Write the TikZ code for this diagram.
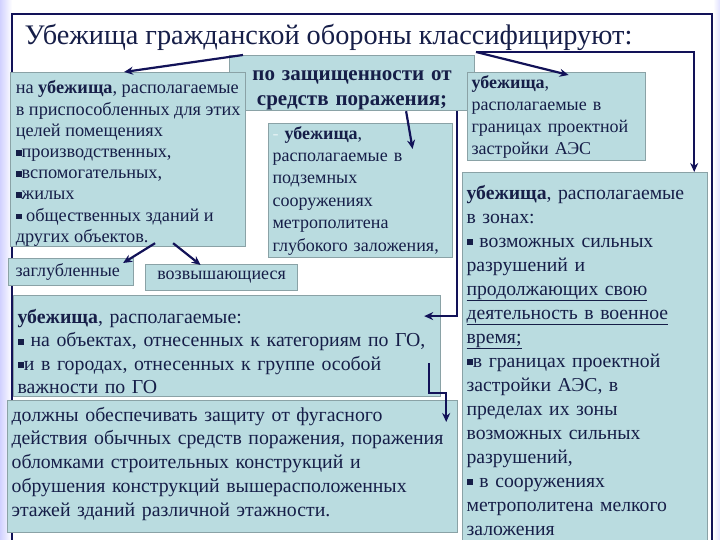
\documentclass[tikz,border=0pt]{standalone}
\usepackage{fontspec}
\setmainfont{Liberation Serif}
\usetikzlibrary{arrows.meta}
\definecolor{boxfill}{RGB}{186,220,224}
\definecolor{boxline}{RGB}{138,162,166}
\definecolor{ink}{RGB}{22,30,72}
\definecolor{navy}{RGB}{18,18,88}
\newcommand{\sq}{\raisebox{0.2ex}{\rule{0.32em}{0.32em}}}

\begin{document}
\begin{tikzpicture}[x=1pt, y=1pt,
  box/.style={draw=boxline, line width=1.2pt, fill=boxfill, anchor=north west, align=left, text=ink, inner xsep=4pt, inner ysep=2pt},
  arr/.style={draw=navy, line width=2.2pt, -{Stealth[length=9pt, width=8pt]}}]
\useasboundingbox (0,0) rectangle (720,540);
\fill[white] (0,0) rectangle (720,540);
\shade[left color=blue!18, right color=white] (0,0) rectangle (12,540);
\shade[left color=white, right color=blue!12] (713,0) rectangle (720,540);
\draw[navy, line width=1.8pt] (12,-2) -- (12,526) -- (712,526) -- (712,-2);
%Text
\node[anchor=base west, text=ink, font=\fontsize{28.3}{32}\selectfont] (title) at (21,495) {Убежища гражданской обороны классифицируют:};
\coordinate (tl) at (243,485);
\coordinate (tr) at (476,488);
%Boxes
\node[box, text width=237pt, minimum height=55pt, inner ysep=0pt, align=center, font=\bfseries\fontsize{21}{25}\selectfont] (prot) at (229,485) {\rule{0pt}{24pt}по защищенности от\\средств поражения;};
\node[box, minimum width=235pt, minimum height=174pt, inner xsep=2pt, inner ysep=0pt, font=\fontsize{18.3}{21.2}\selectfont] (adapt) at (10,468) {\rule{0pt}{21pt}на \textbf{убежища}, располагаемые\\в приспособленных для этих\\целей помещениях\\\sq производственных,\\\sq вспомогательных,\\\sq жилых\\\sq{} общественных зданий и\\других объектов.};
\node[box, text width=170pt, minimum height=88pt, font=\fontsize{18}{22}\selectfont] (aes) at (467,468) {\textbf{убежища},\\располагаемые в\\границах проектной\\застройки АЭС};
\node[box, text width=176pt, minimum height=134pt, font=\fontsize{18}{22.4}\selectfont] (metro) at (268,417) {\textcolor{white!60!boxfill}{-} \textbf{убежища},\\располагаемые в\\подземных\\сооружениях\\метрополитена\\глубокого заложения,};
\node[box, text width=111pt, minimum height=27pt, inner xsep=7pt, font=\fontsize{18}{20}\selectfont] (deep) at (8,282) {заглубленные};
\node[box, text width=144pt, minimum height=26pt, align=center, font=\fontsize{18}{20}\selectfont] (raised) at (145,276) {возвышающиеся};
\node[box, text width=419pt, minimum height=101pt, inner ysep=0pt, font=\fontsize{19.8}{23.5}\selectfont] (cat) at (13,245) {\rule{0pt}{25pt}\textbf{убежища}, располагаемые:\\\sq{} на объектах, отнесенных к категориям по ГО,\\\sq и в городах, отнесенных к группе особой\\важности по ГО};
\node[box, text width=442pt, minimum height=132pt, font=\fontsize{19.8}{23.7}\selectfont] (must) at (7,140) {должны обеспечивать защиту от фугасного\\действия обычных средств поражения, поражения\\обломками строительных конструкций и\\обрушения конструкций вышерасположенных\\этажей зданий различной этажности.\rule[-10pt]{0pt}{10pt}};
\node[box, text width=237pt, minimum height=375pt, font=\fontsize{19.7}{24}\selectfont] (zones) at (462,368) {\textbf{убежища}, располагаемые\\в зонах:\\\sq{} возможных сильных\\разрушений и\\\underline{продолжающих свою}\\\underline{деятельность в военное}\\\underline{время;}\\\sq в границах проектной\\застройки АЭС, в\\пределах их зоны\\возможных сильных\\разрушений,\\\sq{} в сооружениях\\метрополитена мелкого\\заложения};
%Arrows
\draw[arr] (tl) -- ([xshift=-4pt]adapt.north);
\draw[arr] (tr) -- ([xshift=12pt, yshift=-3pt]aes.north);
\draw[arr] (tr) -| ([xshift=-14pt]zones.north east);
\draw[arr] ([xshift=54pt]prot.south) -- ([xshift=52pt, yshift=-26pt]metro.north);
\draw[arr] ([xshift=105pt]prot.south) |- ([xshift=-17pt, yshift=30pt]cat.east);
\draw[arr] ([xshift=27pt, yshift=4pt]adapt.south) -- ([xshift=52pt, yshift=-5pt]deep.north);
\draw[arr] ([xshift=45pt, yshift=4pt]adapt.south) -- ([xshift=-21pt, yshift=-1pt]raised.north);
\draw[arr] ([xshift=-12pt, yshift=34pt]cat.south east) -- ++(0,-30) -| ([xshift=-12pt, yshift=-22pt]must.north east);
\end{tikzpicture}
\end{document}
